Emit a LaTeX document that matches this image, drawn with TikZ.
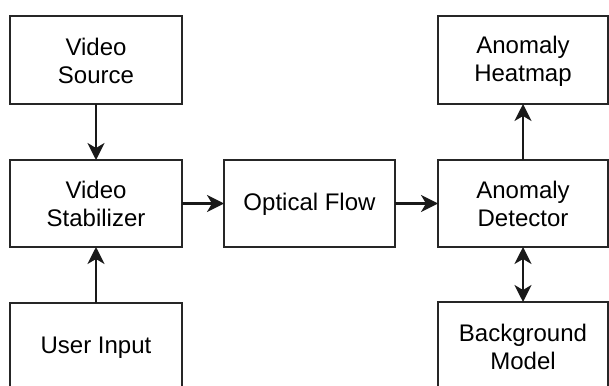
\documentclass[tikz,border=0pt]{standalone}
\usepackage{fontspec}
\setmainfont{Liberation Sans}
\usetikzlibrary{arrows.meta}
\begin{document}
\begin{tikzpicture}[x=1pt,y=-1pt,
  box/.style={draw=black!85, line width=2.4pt, fill=white},
  label/.style={inner sep=0pt, align=center, font=\fontsize{24}{28}\selectfont},
  link/.style={line width=2.2pt, draw=black!90,
    arrows={-Stealth[length=17pt,width=17pt,inset=5pt]}},
  bilink/.style={line width=2.2pt, draw=black!90,
    arrows={Stealth[length=17pt,width=17pt,inset=5pt]-Stealth[length=17pt,width=17pt,inset=5pt]}}]
  \useasboundingbox (0,0) rectangle (609,385);
  \clip (0,0) rectangle (609,385);
  \fill[white] (0,0) rectangle (609,385);

  % boxes and their texts
  \draw[box] (10,16) rectangle (182,104);
  \node[label] (src) at (96,61) {Video\\Source};
  \draw[box] (10,160) rectangle (182,247);
  \node[label] (stab) at (96,204) {Video\\Stabilizer};
  \draw[box] (10,303) rectangle (182,395);
  \node[label] (user) at (96,348) {User Input};
  \draw[box] (224,160) rectangle (395,247);
  \node[label] (flow) at (309.5,204) {Optical Flow};
  \draw[box] (438,16) rectangle (608,104);
  \node[label] (heat) at (523,61) {Anomaly\\Heatmap};
  \draw[box] (438,160) rectangle (608,247);
  \node[label] (det) at (523,204) {Anomaly\\Detector};
  \draw[box] (438,302) rectangle (608,395);
  \node[label] (bg) at (523,347) {Background\\Model};

  % anchor points on the box borders
  \coordinate (srcS) at (96,104);
  \coordinate (stabN) at (96,160);
  \coordinate (stabS) at (96,247);
  \coordinate (stabE) at (182,203.5);
  \coordinate (userN) at (96,303);
  \coordinate (flowW) at (224,203.5);
  \coordinate (flowE) at (395,203.5);
  \coordinate (detW) at (438,203.5);
  \coordinate (detN) at (523,160);
  \coordinate (detS) at (523,247);
  \coordinate (heatS) at (523,104);
  \coordinate (bgN) at (523,302);

  % connectors
  \draw[link] (srcS) -- (stabN);
  \draw[link] (userN) -- (stabS);
  \draw[link] (stabE) -- (flowW);
  \draw[link] (flowE) -- (detW);
  \draw[link] (detN) -- (heatS);
  \draw[bilink] (detS) -- (bgN);
\end{tikzpicture}
\end{document}
